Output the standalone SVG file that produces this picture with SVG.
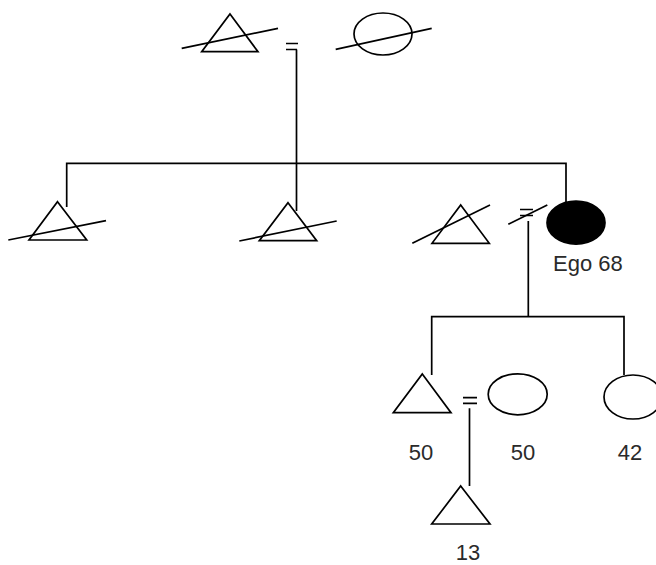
<svg xmlns="http://www.w3.org/2000/svg" width="656" height="565" viewBox="0 0 656 565">
<style>
.s{fill:none;stroke:#000;stroke-width:1.7;stroke-linejoin:miter}
.f{fill:#000;stroke:#000;stroke-width:1.7}
.t{font-family:"Liberation Sans",Arial,sans-serif;font-size:22px;fill:#2a2a2a}
</style>
<rect width="656" height="565" fill="#fff"/>
<g id="connectors" class="s">
<path d="M286 43.5H298M286 49.5H297M296.5 49.5V211"/>
<path d="M66.7 207V163.3H566V202"/>
<path d="M520 209.5H533M520 215.5H533M528.3 221V316.7"/>
<path d="M431.7 375V316.7H624V375"/>
<path d="M463 397.7H477M463 403.3H477M469.5 408.3V486"/>
</g>
<g id="gf" class="s"><path d="M230 14L258 51.7H201.7Z"/><path d="M181.7 48.3L278 28.3"/></g>
<g id="gm" class="s"><ellipse cx="383" cy="34" rx="29" ry="21"/><path d="M335.7 49.3L431.7 28.3"/></g>
<g id="b1" class="s"><path d="M57.5 201.7L86.7 240H29Z"/><path d="M8.3 240L106 220.7"/></g>
<g id="b2" class="s"><path d="M288 202.7L316.7 240.7H259.3Z"/><path d="M239.3 241L336.7 221"/></g>
<g id="h" class="s"><path d="M460.7 205L489.3 243.3H432Z"/><path d="M412.3 243.3L490 205"/></g>
<g id="div" class="s"><path d="M508.3 224.3L547.3 205"/></g>
<g id="ego"><ellipse class="f" cx="576" cy="222.7" rx="29" ry="21.5"/><text class="t" x="553" y="271">Ego 68</text></g>
<g id="son"><path class="s" d="M422.3 374L451 412.7H393.3Z"/><text class="t" x="421" y="460" text-anchor="middle">50</text></g>
<g id="wife"><ellipse class="s" cx="517.7" cy="394.3" rx="29.5" ry="20.5"/><text class="t" x="523" y="460" text-anchor="middle">50</text></g>
<g id="dau"><ellipse class="s" cx="633" cy="397" rx="29" ry="22"/><text class="t" x="630" y="460" text-anchor="middle">42</text></g>
<g id="gs"><path class="s" d="M460.7 486L490 524H431.7Z"/><text class="t" x="468" y="560" text-anchor="middle">13</text></g>
</svg>
